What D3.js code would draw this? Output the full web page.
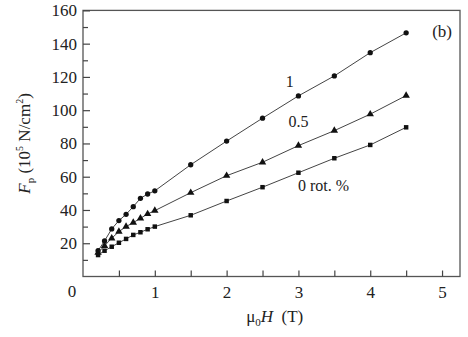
<!DOCTYPE html>
<html>
<head>
<meta charset="utf-8">
<script src="https://cdn.jsdelivr.net/npm/d3@7"></script>
<style>
  html, body { margin: 0; padding: 0; background: #fff; }
  #chart { width: 468px; height: 337px; }
  text { font-family: "Liberation Serif", "DejaVu Serif", serif; fill: #222; }
</style>
</head>
<body>
<div id="chart"></div>
<script>
// Field values (T) shared by the three curves
const fields = [0.21, 0.3, 0.4, 0.5, 0.6, 0.7, 0.8, 0.9, 1.0, 1.5, 2.0, 2.5, 3.0, 3.5, 4.0, 4.5];
// Pinning force Fp (10^5 N/cm^2) for each rotation %
const fp1 = [15.5, 21.4, 28.6, 33.6, 37.4, 42.0, 47.0, 49.6, 51.5, 67.2, 81.4, 95.2, 108.6, 120.6, 134.6, 146.5];
const fp05 = [14.3, 18.5, 23.0, 27.0, 30.0, 32.4, 35.0, 37.6, 39.6, 50.4, 60.6, 68.7, 78.7, 87.7, 97.6, 108.8];
const fp0 = [12.9, 15.5, 17.9, 20.3, 22.6, 25.0, 26.6, 28.4, 30.0, 36.8, 45.4, 53.7, 62.4, 71.1, 79.1, 89.7];
const seriesNames = ['1', '0.5', '0 rot. %'];
const seriesSymbols = ['circle', 'triangle', 'square'];
const xTickLabels = [1, 2, 3, 4, 5];
const yTickLabels = [20, 40, 60, 80, 100, 120, 140, 160];

const margin = { top: 10.4, right: 8, bottom: 60.5, left: 83 };
const fullWidth = 468, fullHeight = 337;
const width = fullWidth - margin.left - margin.right;
const height = fullHeight - margin.top - margin.bottom;

const svg = d3.select('#chart').append('svg')
  .attr('width', fullWidth)
  .attr('height', fullHeight);
const g = svg.append('g').attr('transform', `translate(${margin.left},${margin.top})`);

const x = d3.scaleLinear().domain([0, 5.25]).range([0, width]);
const y = d3.scaleLinear().domain([0, 160]).range([height, 0]);

// frame
g.append('rect')
  .attr('width', width).attr('height', height)
  .attr('fill', 'none').attr('stroke', '#555').attr('stroke-width', 1.3);

// x ticks (inward), every 0.5
g.append('g')
  .attr('transform', `translate(0,${height})`)
  .call(d3.axisBottom(x).tickValues(d3.range(0.5, 5.01, 0.5)).tickSize(-6).tickFormat(''))
  .call(a => a.select('.domain').remove())
  .call(a => a.selectAll('line').attr('stroke', '#444').attr('stroke-width', 1.2));
// x labels
g.append('g')
  .attr('transform', `translate(0,${height})`)
  .call(d3.axisBottom(x).tickValues(xTickLabels).tickSize(0).tickPadding(9).tickFormat(d3.format('d')))
  .call(a => a.select('.domain').remove())
  .call(a => a.selectAll('text').attr('font-size', 17).attr('fill', '#222'));

// y ticks: minor every 10, major every 20
g.append('g')
  .call(d3.axisLeft(y).tickValues(d3.range(10, 160, 20)).tickSize(-5).tickFormat(''))
  .call(a => a.select('.domain').remove())
  .call(a => a.selectAll('line').attr('stroke', '#444').attr('stroke-width', 1.2));
g.append('g')
  .call(d3.axisLeft(y).tickValues(yTickLabels).tickSize(-7).tickPadding(6).tickFormat(d3.format('d')))
  .call(a => a.select('.domain').remove())
  .call(a => a.selectAll('line').attr('stroke', '#444').attr('stroke-width', 1.2))
  .call(a => a.selectAll('text').attr('font-size', 17).attr('fill', '#222').attr('x', -6));

// shared origin label
g.append('text')
  .attr('x', x(0) - 11).attr('y', y(0) + 21)
  .attr('text-anchor', 'middle').attr('font-size', 17).text('0');

// curves
const allSeries = [fp1, fp05, fp0];
const line = d3.line().x((d, i) => x(fields[i])).y(d => y(d));
const symbolTypes = { circle: d3.symbolCircle, triangle: d3.symbolTriangle, square: d3.symbolSquare };
const symbolSizes = { circle: 22, triangle: 24, square: 20 };

allSeries.forEach((vals, k) => {
  g.append('path')
    .datum(vals)
    .attr('d', line)
    .attr('fill', 'none')
    .attr('stroke', '#444')
    .attr('stroke-width', 1);
  const sym = seriesSymbols[k];
  g.selectAll(`.pt${k}`)
    .data(vals)
    .join('path')
      .attr('class', `pt${k}`)
      .attr('transform', (d, i) => `translate(${x(fields[i])},${y(d)})`)
      .attr('d', d3.symbol().type(symbolTypes[sym]).size(symbolSizes[sym]))
      .attr('fill', '#111');
});

// series labels
const labelPos = [[2.88, 114], [3.0, 90], [3.35, 51.5]];
seriesNames.forEach((name, k) => {
  g.append('text')
    .attr('x', x(labelPos[k][0])).attr('y', y(labelPos[k][1]))
    .attr('text-anchor', 'middle').attr('font-size', 16)
    .text(name);
});

// panel tag
g.append('text')
  .attr('x', x(5.0)).attr('y', y(144))
  .attr('text-anchor', 'middle').attr('font-size', 17)
  .text('(b)');

// axis titles
const xt = g.append('text')
  .attr('x', x(2.67)).attr('y', height + 46)
  .attr('text-anchor', 'middle').attr('font-size', 17);
xt.append('tspan').text('μ');
xt.append('tspan').attr('dy', 4).attr('font-size', 11).text('0');
xt.append('tspan').attr('dy', -4).attr('font-style', 'italic').text('H');
xt.append('tspan').text('\u00a0\u00a0(T)');

const yt = svg.append('text')
  .attr('transform', `translate(30,${margin.top + y(80)}) rotate(-90)`)
  .attr('text-anchor', 'middle').attr('font-size', 17);
yt.append('tspan').attr('font-style', 'italic').text('F');
yt.append('tspan').attr('dy', 4).attr('font-size', 11).text('p');
yt.append('tspan').attr('dy', -4).text('\u00a0(10');
yt.append('tspan').attr('dy', -7).attr('font-size', 10).text('5');
yt.append('tspan').attr('dy', 7).text('\u00a0N/cm');
yt.append('tspan').attr('dy', -7).attr('font-size', 10).text('2');
yt.append('tspan').attr('dy', 7).text(')');
</script>
</body>
</html>
